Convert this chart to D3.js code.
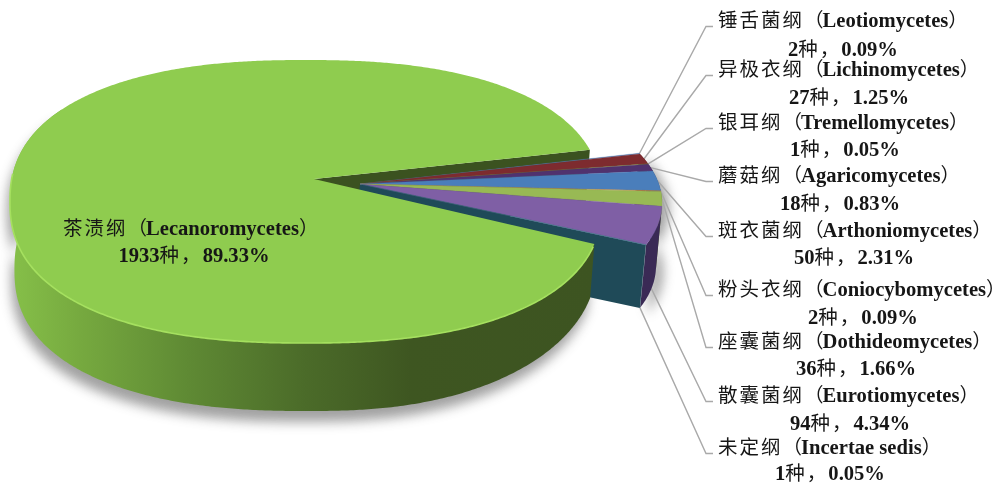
<!DOCTYPE html>
<html lang="zh">
<head>
<meta charset="utf-8">
<title>地衣型真菌纲级分类组成</title>
<script src="https://cdnjs.cloudflare.com/ajax/libs/d3/7.8.5/d3.min.js"></script>
<style>
  html, body { margin: 0; padding: 0; background: #fff; }
  svg { display: block; }
  .lat { font-family: "Liberation Serif", serif; font-weight: 700; font-size: 20.6px; }
  .cjk { font-family: "Noto Sans CJK SC", sans-serif; font-weight: 400; font-size: 19.5px; letter-spacing: 2px; }
  .closer { font-feature-settings: "halt"; letter-spacing: 0; }
  text { fill: #161616; }
</style>
</head>
<body>
<svg id="chart" width="1001" height="487"></svg>
<script>
// Class-level composition: names, species counts and stated shares
const classNames = ["锤舌菌纲", "异极衣纲", "银耳纲", "蘑菇纲", "斑衣菌纲", "粉头衣纲", "座囊菌纲", "散囊菌纲", "未定纲", "茶渍纲"];
const latinNames = ["Leotiomycetes", "Lichinomycetes", "Tremellomycetes", "Agaricomycetes", "Arthoniomycetes", "Coniocybomycetes", "Dothideomycetes", "Eurotiomycetes", "Incertae sedis", "Lecanoromycetes"];
const speciesCounts = [2, 27, 1, 18, 50, 2, 36, 94, 1, 1933];
const sharePercents = ["0.09", "1.25", "0.05", "0.83", "2.31", "0.09", "1.66", "4.34", "0.05", "89.33"];

// Face and wall colours, in slice order
const faceColors = ["#4f7fb8", "#7d2b2f", "#7d8f3e", "#50326e", "#4a7ebb", "#c2843f", "#98b954", "#7f5fa5", "#2a6678", "#8fcc4f"];
const wallColors = ["#2c4a6e", "#4a1a1c", "#4c5a25", "#2f1e42", "#2b4a70", "#75502a", "#5a6e32", "#3a2a55", "#1f4a58", "#3b5220"];

// Typeset rows of the callouts: vertical centre of each line and centre of the second line
const labelStartX = 718;
const firstLineY = [20, 69, 122, 175, 230, 289, 341, 395, 447];
const secondLineY = [49, 97, 149, 203, 257, 317, 368, 423, 473];
const secondLineX = [843, 849, 845, 840, 854, 863, 856, 850, 830];

const svg = d3.select("#chart");
const rad = Math.PI / 180;

// Pie layout, rotated so the small classes open towards the right
const startAngle = 77.5 * rad;
const slices = d3.pie().sort(null).value(d => d)
  .startAngle(startAngle).endAngle(startAngle + 2 * Math.PI)(speciesCounts);

// Tilted-disc geometry: the body pie and the pulled-out group have their own rims
const bodyDisc = { apex: [314, 179], cx: 306, cy: 201.5, rx: 296, ry: 141.5, n: 2.35, f: 0.477, rot: 0 };
const pulledDisc = { apex: [360, 184], cx: 362, cy: 203, rx: 300, ry: 130, n: 2, f: 0.46, rot: -1 * rad };

function rimPoint(disc, angle) {
  const theta = angle + disc.rot;
  const dx = Math.sin(theta), dy = -disc.f * Math.cos(theta);
  const inside = t => {
    const u = Math.abs(disc.apex[0] + t * dx - disc.cx) / disc.rx;
    const v = Math.abs(disc.apex[1] + t * dy - disc.cy) / disc.ry;
    return Math.pow(u, disc.n) + Math.pow(v, disc.n) < 1;
  };
  let lo = 0, hi = 1000;
  for (let i = 0; i < 40; i++) {
    const mid = (lo + hi) / 2;
    if (inside(mid)) lo = mid; else hi = mid;
  }
  return [disc.apex[0] + lo * dx, disc.apex[1] + lo * dy];
}

function arcSamples(disc, a0, a1) {
  const steps = Math.max(2, Math.ceil((a1 - a0) / (0.5 * rad)));
  return d3.range(steps + 1).map(i => rimPoint(disc, a0 + (a1 - a0) * i / steps));
}

// Lower edge of each wall
const bodyDrop = p => {
  const over = Math.max(0, p[0] - 350) / 246;
  return [bodyDisc.cx + (p[0] - bodyDisc.cx) * 0.985, p[1] + 68 - 14 * over * over];
};
const pulledDrop = p => [p[0] - 6, p[1] + 63];

const line = d3.line();
const closed = pts => line(pts) + "Z";

const defs = svg.append("defs");
defs.append("filter").attr("id", "softShadow")
  .attr("filterUnits", "userSpaceOnUse")
  .attr("x", 0).attr("y", 0).attr("width", 1001).attr("height", 487)
  .append("feGaussianBlur").attr("stdDeviation", 6);
defs.append("filter").attr("id", "softEdge")
  .attr("x", "-5%").attr("y", "-5%").attr("width", "110%").attr("height", "110%")
  .append("feGaussianBlur").attr("stdDeviation", 0.7);

const wallFade = defs.append("linearGradient").attr("id", "wallFade")
  .attr("gradientUnits", "userSpaceOnUse")
  .attr("x1", 10).attr("x2", 600).attr("y1", 0).attr("y2", 0);
[[0, "#86c049"], [0.12, "#76a93f"], [0.3, "#5f8a34"], [0.5, "#4b6b29"], [0.68, "#3e5621"], [1, "#3d5421"]]
  .forEach(([o, c]) => wallFade.append("stop").attr("offset", o).attr("stop-color", c));

const body = slices[slices.length - 1];
const pulled = slices.slice(0, -1);
const gapStart = pulled[0].startAngle;
const gapEnd = pulled[pulled.length - 1].endAngle;

const bodyRim = arcSamples(bodyDisc, body.startAngle, body.endAngle);
const frontRim = arcSamples(bodyDisc, body.startAngle, 300 * rad);
const bodyWallPts = frontRim.concat(frontRim.map(bodyDrop).reverse());

// Ground shadows
const shadow = svg.append("g").attr("filter", "url(#softShadow)").attr("fill", "#555").attr("opacity", 0.55);
shadow.append("path").attr("d", closed(bodyWallPts)).attr("transform", "translate(-3,11)");
const pulledRim = arcSamples(pulledDisc, gapStart, gapEnd);
shadow.append("path").attr("transform", "translate(7,6)")
  .attr("d", closed(pulledRim.map(pulledDrop).concat(pulledRim.slice().reverse())));

// Callout leaders: from the slice rim up or down to a short elbow beside its label
const leaderGroup = svg.append("g").attr("fill", "none").attr("stroke", "#a9a9a9").attr("stroke-width", 1.4);
pulled.forEach((d, i) => {
  let from = rimPoint(pulledDisc, (d.startAngle + d.endAngle) / 2);
  if (i >= 7) from = pulledDrop(from);
  const y = firstLineY[i] + 6.5;
  leaderGroup.append("path").attr("d", line([from, [706, y], [713, y]]));
});

// Upper cut face of the body pie, seen through the gap
const cutEdge = rimPoint(bodyDisc, body.endAngle);
svg.append("path").attr("fill", wallColors[9])
  .attr("d", closed([bodyDisc.apex, cutEdge, bodyDrop(cutEdge), bodyDrop(bodyDisc.apex)]));

// Pulled-out group: lower cut face, outer walls, then top faces
const lastEdge = rimPoint(pulledDisc, gapEnd);
svg.append("path").attr("fill", wallColors[8])
  .attr("d", closed([pulledDisc.apex, lastEdge, pulledDrop(lastEdge), pulledDrop(pulledDisc.apex)]));

svg.append("g").selectAll("path").data(pulled).join("path")
  .attr("fill", (d, i) => wallColors[i])
  .attr("d", d => {
    const rim = arcSamples(pulledDisc, d.startAngle, d.endAngle);
    return closed(rim.concat(rim.map(pulledDrop).reverse()));
  });

svg.append("g").selectAll("path").data(pulled).join("path")
  .attr("fill", (d, i) => faceColors[i])
  .attr("stroke", (d, i) => faceColors[i]).attr("stroke-width", 0.3)
  .attr("d", d => closed([pulledDisc.apex].concat(arcSamples(pulledDisc, d.startAngle, d.endAngle))));

// Body pie: outer wall, top face, lit rim
svg.append("path").attr("fill", "url(#wallFade)").attr("d", closed(bodyWallPts));
svg.append("path").attr("fill", faceColors[9])
  .attr("d", closed([bodyDisc.apex].concat(bodyRim)));
const litRim = arcSamples(bodyDisc, gapEnd + 1 * rad, 272 * rad);
svg.append("path").attr("fill", "none").attr("stroke", "#a5e05f").attr("stroke-width", 1.6)
  .attr("filter", "url(#softEdge)").attr("d", line(litRim));

// Labels: Latin in bold serif, Chinese in the CJK face; the opening bracket sits tight to the name
function addRuns(sel, str) {
  (str.match(/[\u3000-\u9fff\uff00-\uffef]+|[^\u3000-\u9fff\uff00-\uffef]+/g) || []).forEach(run => {
    const isCjk = /[\u3000-\u9fff\uff00-\uffef]/.test(run);
    sel.append("tspan").attr("class", run === "）" ? "cjk closer" : isCjk ? "cjk" : "lat")
      .attr("dx", !isCjk && /[A-Z]/.test(run[0]) ? -3 : null).text(run);
  });
}
function labelLines(i) {
  return [`${classNames[i]}（${latinNames[i]}）`, `${speciesCounts[i]}种，${sharePercents[i]}%`];
}
pulled.forEach((d, i) => {
  const [a, b] = labelLines(i);
  addRuns(svg.append("text").attr("x", labelStartX).attr("y", firstLineY[i] + 7), a);
  addRuns(svg.append("text").attr("x", secondLineX[i]).attr("y", secondLineY[i] + 7).attr("text-anchor", "middle"), b);
});
const [bodyA, bodyB] = labelLines(9);
addRuns(svg.append("text").attr("x", 63).attr("y", 235), bodyA);
addRuns(svg.append("text").attr("x", 194).attr("y", 262).attr("text-anchor", "middle"), bodyB);
</script>
</body>
</html>
